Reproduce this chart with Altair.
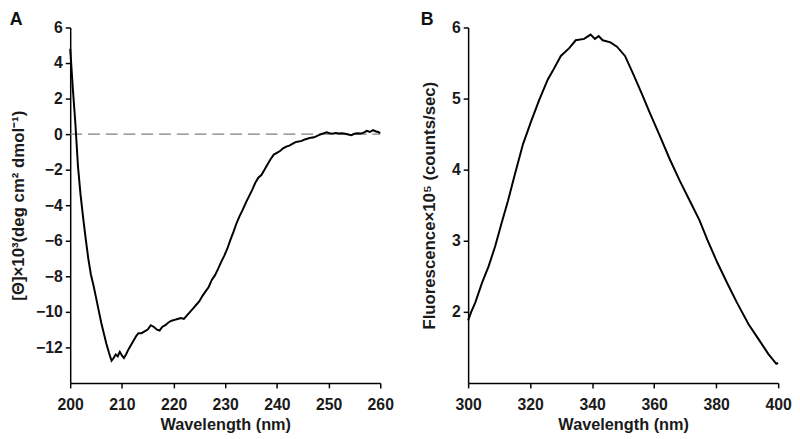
import altair as alt
import pandas as pd

# Panel A: CD spectrum
cd_wavelength = [200.0, 200.5, 201.0, 201.5, 202.0, 202.5, 203.0, 203.5, 204.0, 204.5,
                 205.0, 205.5, 206.0, 206.5, 207.0, 207.5, 208.0, 208.4, 208.8, 209.2,
                 209.6, 210.0, 210.4, 210.8, 211.3, 211.8, 212.3, 212.8, 213.2, 213.8,
                 214.4, 215.0, 215.6, 216.2, 216.8, 217.3, 217.8, 218.4, 219.0, 219.6,
                 220.2, 220.8, 221.4, 222.0, 222.6, 223.2, 223.8, 224.4, 225.0, 225.6,
                 226.2, 226.8, 227.4, 228.0, 228.6, 229.2, 229.8, 230.4, 231.0, 231.6,
                 232.2, 232.8, 233.4, 234.0, 234.6, 235.2, 235.8, 236.4, 237.0, 237.6,
                 238.2, 238.8, 239.4, 240.0, 240.6, 241.2, 241.8, 242.4, 243.0, 243.6,
                 244.2, 244.8, 245.4, 246.0, 246.6, 247.2, 247.8, 248.4, 249.0, 249.6,
                 250.2, 250.8, 251.4, 252.0, 252.6, 253.2, 253.8, 254.4, 255.0, 255.6,
                 256.2, 256.8, 257.4, 258.0, 258.6, 259.2, 259.6, 260.0]
cd_theta = [4.8, 2.6, 0.6, -1.8, -3.4, -4.7, -5.9, -7.0, -7.9, -8.5,
            -9.2, -9.9, -10.6, -11.2, -11.8, -12.3, -12.75, -12.6, -12.4, -12.5,
            -12.25, -12.45, -12.6, -12.4, -12.1, -11.85, -11.6, -11.35, -11.2, -11.2,
            -11.1, -11.0, -10.75, -10.85, -11.0, -11.05, -10.85, -10.75, -10.6, -10.5,
            -10.45, -10.4, -10.35, -10.4, -10.2, -10.0, -9.8, -9.6, -9.4, -9.1,
            -8.85, -8.6, -8.2, -7.95, -7.6, -7.2, -6.85, -6.45, -5.95, -5.5,
            -5.0, -4.6, -4.25, -3.85, -3.5, -3.15, -2.75, -2.45, -2.3, -2.0,
            -1.7, -1.4, -1.15, -1.05, -0.95, -0.8, -0.7, -0.65, -0.55, -0.45,
            -0.42, -0.38, -0.3, -0.25, -0.2, -0.18, -0.1, -0.02, 0.04, 0.1,
            0.05, 0.02, 0.06, 0.03, 0.05, 0.02, -0.02, -0.06, 0.02, 0.05,
            0.03, 0.08, 0.18, 0.12, 0.22, 0.15, 0.12, 0.05]

# Panel B: fluorescence emission spectrum
fl_wavelength = [300.0, 301.0, 302.3, 304.5, 306.6, 308.7, 310.8, 312.9, 315.0, 317.7,
                 320.4, 323.0, 325.7, 327.3, 329.9, 332.6, 334.7, 337.4, 339.5, 340.9,
                 342.1, 343.4, 345.9, 348.0, 350.6, 353.3, 355.9, 358.6, 361.8, 365.0,
                 368.2, 371.4, 374.6, 377.2, 380.4, 383.5, 386.7, 390.4, 393.6, 396.8,
                 399.4, 400.0]
fl_counts = [1.88, 2.0, 2.13, 2.41, 2.64, 2.92, 3.25, 3.57, 3.92, 4.36,
             4.69, 4.99, 5.27, 5.39, 5.60, 5.71, 5.82, 5.84, 5.90, 5.84,
             5.88, 5.82, 5.79, 5.73, 5.60, 5.34, 5.08, 4.80, 4.48, 4.15,
             3.85, 3.57, 3.29, 3.01, 2.69, 2.41, 2.13, 1.83, 1.62, 1.41,
             1.27, 1.28]

cd_xticks = [200, 210, 220, 230, 240, 250, 260]
cd_yticks = [6, 4, 2, 0, -2, -4, -6, -8, -10, -12]
fl_xticks = [300, 320, 340, 360, 380, 400]
fl_yticks = [2, 3, 4, 5, 6]

FONT = "Liberation Sans"

cd_df = pd.DataFrame({"wl": cd_wavelength, "v": cd_theta})
fl_df = pd.DataFrame({"wl": fl_wavelength, "v": fl_counts})
zero_df = pd.DataFrame({"x1": [200], "x2": [260], "y": [0]})


def axis(values, title, title_pad, title_size=16.5, label_pad=3):
    return alt.Axis(values=values, title=title, grid=False, tickSize=5,
                    domainColor="black", tickColor="black", domainWidth=1.5,
                    tickWidth=1.5, labelFont=FONT, labelFontSize=16,
                    labelFontWeight="bold", labelColor="#1a1a1a",
                    titleFont=FONT, titleFontSize=title_size, titleFontWeight="bold",
                    titleColor="#1a1a1a", labelPadding=label_pad, titlePadding=title_pad,
                    labelFlush=False, labelOverlap=False)


CD_XAX = dict(values=cd_xticks, title="Wavelength (nm)", title_pad=4, label_pad=9)
CD_YAX = dict(values=cd_yticks, title="[Θ]×10³(deg cm² dmol⁻¹)", title_pad=8, title_size=17)

zero_line = alt.Chart(zero_df).mark_rule(color="#808080", strokeWidth=1.5,
                                         strokeDash=[12, 6]).encode(
    x=alt.X("x1:Q", scale=alt.Scale(domain=[200, 260], nice=False, zero=False),
            axis=axis(**CD_XAX)),
    x2="x2:Q",
    y=alt.Y("y:Q", scale=alt.Scale(domain=[-14, 6], nice=False),
            axis=axis(**CD_YAX)))

cd_line = alt.Chart(cd_df).mark_line(color="black", strokeWidth=2).encode(
    x=alt.X("wl:Q", scale=alt.Scale(domain=[200, 260], nice=False, zero=False),
            axis=axis(**CD_XAX)),
    y=alt.Y("v:Q", scale=alt.Scale(domain=[-14, 6], nice=False),
            axis=axis(**CD_YAX)))

chart_a = alt.layer(zero_line, cd_line).properties(
    width=314, height=360,
    title=alt.TitleParams("A", anchor="start", frame="bounds", fontSize=18,
                          font=FONT, fontWeight="bold", color="#111", offset=-9))

chart_b = alt.Chart(fl_df).mark_line(color="black", strokeWidth=2).encode(
    x=alt.X("wl:Q", scale=alt.Scale(domain=[300, 400], nice=False, zero=False),
            axis=axis(fl_xticks, "Wavelength (nm)", 4, label_pad=9)),
    y=alt.Y("v:Q", scale=alt.Scale(domain=[1, 6], nice=False, zero=False),
            axis=axis(fl_yticks, "Fluorescence×10⁵ (counts/sec)", 13, 17)),
).properties(
    width=314, height=360,
    title=alt.TitleParams("B", anchor="start", frame="bounds", fontSize=18,
                          font=FONT, fontWeight="bold", color="#111", offset=-9))

chart = alt.hconcat(chart_a, chart_b, spacing=27).properties(
    padding={"left": 1, "top": 0, "right": 0, "bottom": 0}
).configure(background="white").configure_view(stroke=None, strokeWidth=0)

chart.save("out.html", embed_options={"renderer": "svg", "actions": False})
